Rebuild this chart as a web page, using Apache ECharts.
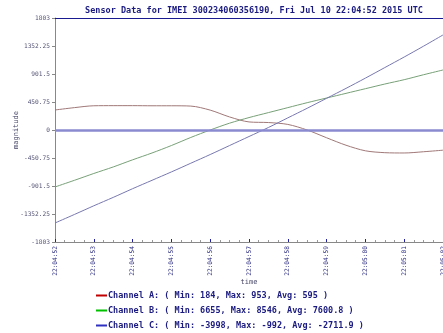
<!DOCTYPE html>
<html>
<head>
<meta charset="utf-8">
<script src="https://cdn.jsdelivr.net/npm/echarts@6/dist/echarts.min.js"></script>
<style>
  html, body { margin: 0; padding: 0; background: #fff; }
  #chart { width: 443px; height: 333px; }
</style>
</head>
<body>
<div id="chart"></div>
<script>
// seconds after 22:04:52
var seconds = [0, 0.5, 1, 1.5, 2, 2.5, 3, 3.5, 4, 4.5, 5, 5.5, 6, 6.5, 7, 7.5, 8, 8.5, 9, 9.5, 10];
var channelA = [322, 360, 390, 392, 392, 390, 390, 385, 320, 210, 130, 120, 90, 0, -125, -245, -335, -365, -370, -350, -325];
var channelB = [-917, -810, -700, -595, -480, -370, -250, -120, 0, 110, 200, 280, 360, 440, 515, 590, 665, 740, 810, 890, 966];
var channelC = [-1497, -1360, -1220, -1085, -945, -810, -675, -535, -395, -250, -105, 40, 195, 350, 510, 670, 835, 1005, 1175, 1350, 1530];
var timeLabels = ['22:04:52', '22:04:53', '22:04:54', '22:04:55', '22:04:56', '22:04:57',
    '22:04:58', '22:04:59', '22:05:00', '22:05:01', '22:05:02'];
var channelNames = ['Channel A', 'Channel B', 'Channel C'];
var channelStats = [
    '( Min: 184, Max: 953, Avg: 595 )',
    '( Min: 6655, Max: 8546, Avg: 7600.8 )',
    '( Min: -3998, Max: -992, Avg: -2711.9 )'
];
var swatchColors = ['#c00000', '#00c000', '#3030c0'];
var lineColors = ['#a07878', '#78a078', '#7878b0'];

var mono = 'DejaVu Sans Mono';
var navy = '#1a1a80';

function pairs(vals) {
    return seconds.map(function (s, i) { return [s, vals[i]]; });
}

// one legend per row so nothing wraps
var legends = channelNames.map(function (name, i) {
    return {
        orient: 'vertical',
        left: 96,
        top: 291 + i * 15,
        padding: 0,
        itemWidth: 11,
        itemHeight: 2,
        icon: 'rect',
        data: [{ name: name, itemStyle: { color: swatchColors[i] } }],
        formatter: function (n) {
            return n + ': ' + channelStats[channelNames.indexOf(n)];
        },
        textStyle: { fontFamily: mono, fontSize: 8.5, fontWeight: 'bold', color: navy, padding: [0, 0, 0, -4] }
    };
});

var dom = document.getElementById('chart');
var chart = echarts.init(dom);
var option = {
    animation: false,
    title: {
        text: 'Sensor Data for IMEI 300234060356190, Fri Jul 10 22:04:52 2015 UTC',
        left: 249,
        textAlign: 'center',
        top: 1,
        textStyle: { fontFamily: mono, fontSize: 8.5, fontWeight: 'bold', color: navy }
    },
    legend: legends,
    grid: { left: 55, right: 0, top: 18, bottom: 91, containLabel: false, outerBoundsMode: 'none' },
    xAxis: [{
        type: 'value',
        min: 0,
        max: 10,
        interval: 1,
        name: 'time',
        nameLocation: 'middle',
        nameGap: 37,
        nameMoveOverlap: false,
        nameTextStyle: { fontFamily: mono, fontSize: 7, color: '#444466' },
        axisLine: { onZero: false, lineStyle: { color: '#888', width: 1 } },
        axisTick: { inside: true, length: 3, lineStyle: { color: '#2020a0' } },
        minorTick: { show: true, splitNumber: 4, length: 2, lineStyle: { color: '#999' } },
        splitLine: { show: false },
        axisLabel: {
            rotate: 90,
            margin: 4,
            fontFamily: mono,
            fontSize: 6.2,
            color: '#2a2a80',
            formatter: function (v) { return timeLabels[Math.round(v)]; }
        }
    }, {
        type: 'value',
        position: 'top',
        min: 0,
        max: 10,
        axisLine: { onZero: false, lineStyle: { color: '#1a1a90', width: 1 } },
        axisTick: { show: false },
        axisLabel: { show: false },
        splitLine: { show: false }
    }],
    yAxis: {
        type: 'value',
        min: -1803,
        max: 1803,
        interval: 450.75,
        name: 'magnitude',
        nameLocation: 'middle',
        nameGap: 35,
        nameMoveOverlap: false,
        nameTextStyle: { fontFamily: mono, fontSize: 7, color: '#444466' },
        axisLine: { show: true, onZero: false, lineStyle: { color: '#888', width: 1 } },
        axisTick: { show: true, length: 3, lineStyle: { color: '#888' } },
        splitLine: { show: false },
        axisLabel: {
            fontFamily: mono, fontSize: 6.2, color: '#555577', margin: 5,
            formatter: function (v) { return String(v); }
        }
    },
    series: [{
        name: 'Channel A',
        type: 'line',
        data: pairs(channelA),
        showSymbol: false,
        smooth: 0.3,
        lineStyle: { width: 1, color: lineColors[0] },
        itemStyle: { color: lineColors[0] },
        markLine: {
            silent: true,
            symbol: 'none',
            label: { show: false },
            lineStyle: { color: '#8a8ad0', width: 2.5, type: 'solid', opacity: 1 },
            data: [{ yAxis: 0 }]
        }
    }, {
        name: 'Channel B',
        type: 'line',
        data: pairs(channelB),
        showSymbol: false,
        smooth: 0.3,
        lineStyle: { width: 1, color: lineColors[1] },
        itemStyle: { color: lineColors[1] }
    }, {
        name: 'Channel C',
        type: 'line',
        data: pairs(channelC),
        showSymbol: false,
        smooth: 0.3,
        lineStyle: { width: 1, color: lineColors[2] },
        itemStyle: { color: lineColors[2] }
    }]
};
chart.setOption(option);
window.addEventListener('resize', chart.resize);
</script>
</body>
</html>
